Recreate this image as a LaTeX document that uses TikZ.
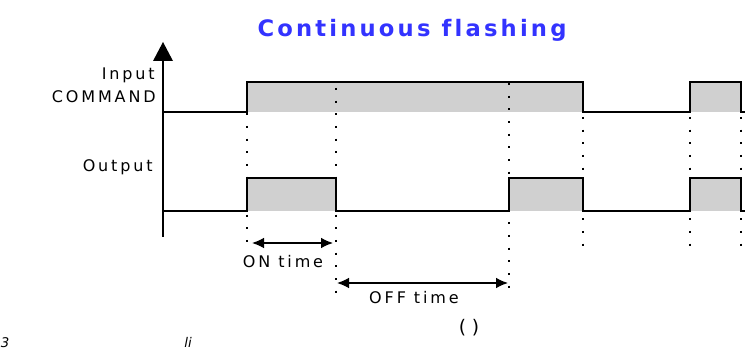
\documentclass[tikz,border=0pt]{standalone}
\usepackage{fontspec}
\setsansfont{DejaVu Sans}
\newfontfamily\titlefont[LetterSpace=14,Ligatures={NoCommon}]{DejaVu Sans Bold}
\newfontfamily\labelfont[LetterSpace=18]{DejaVu Sans}
\usetikzlibrary{arrows.meta}
\definecolor{titleblue}{RGB}{51,51,255}
\definecolor{pulsegray}{RGB}{208,208,208}
\tikzset{
  signal/.style={line width=1.5pt,line join=miter,line cap=butt},
  pulse/.style={fill=pulsegray},
  tick/.style={line width=1.5pt,dash pattern=on 1.5pt off 8pt,line cap=butt},
  span/.style={line width=1pt,{Latex[length=9pt,width=8pt]}-{Latex[length=9pt,width=8pt]}},
  lbl/.style={font=\labelfont\fontsize{12}{13}\selectfont,inner sep=0pt},
  cut/.style={font=\sffamily\itshape\fontsize{10}{11}\selectfont,inner sep=0pt,anchor=base}
}
\begin{document}
\begin{tikzpicture}[x=0.75pt,y=-0.75pt,line cap=round]
  \useasboundingbox (0,0) rectangle (750,349);
  \node[font=\titlefont\fontsize{17}{20}\selectfont,text=titleblue,inner sep=0pt] (title) at (412,30) {Continuous flashing};
  % gray pulses
  \fill[pulse] (247,82) rectangle (583,112);
  \fill[pulse] (690,82) rectangle (741,112);
  \fill[pulse] (247,178) rectangle (336,211);
  \fill[pulse] (509,178) rectangle (583,211);
  \fill[pulse] (690,178) rectangle (741,211);
  % dotted guides
  \foreach \x/\ya/\yb in {247/88/250,336/88/298,509/83/296,583/117/256,690/117/256,741/117/256}
    \draw[tick] (\x,\ya) -- (\x,\yb);
  % input and output
  \draw[signal] (163,112) -- (247,112) -- (247,82) -- (583,82) -- (583,112) -- (690,112)
    -- (690,82) -- (741,82) -- (741,112) -- (745,112);
  \draw[signal] (163,211) -- (247,211) -- (247,178) -- (336,178) -- (336,211) -- (509,211)
    -- (509,178) -- (583,178) -- (583,211) -- (690,211) -- (690,178) -- (741,178)
    -- (741,211) -- (745,211);
  % axis
  \draw[line width=1.7pt,line cap=butt] (163,58) -- (163,237);
  \fill (153,61) -- (173,61) -- (163,42) -- cycle;
  \node[lbl,anchor=east] (input) at (155,75) {Input};
  \node[lbl,anchor=east] (command) at (156,97) {COMMAND};
  \node[lbl,anchor=east] (output) at (153,167) {Output};
  % times
  \coordinate (onL) at (252,243);
  \coordinate (onR) at (333,243);
  \coordinate (offL) at (337,283);
  \coordinate (offR) at (508,283);
  \draw[span] (onL) -- (onR);
  \draw[span] (offL) -- (offR);
  \node[lbl] (ontime) at (283,262) {ON time};
  \node[lbl] (offtime) at (414,298) {OFF time};
  \node[font=\sffamily\fontsize{14}{15}\selectfont,inner sep=0pt] (paren) at (469,328) {( )};
  \node[cut] (three) at (5,347) {3};
  \node[cut] (li) at (188,347) {li};
\end{tikzpicture}
\end{document}
